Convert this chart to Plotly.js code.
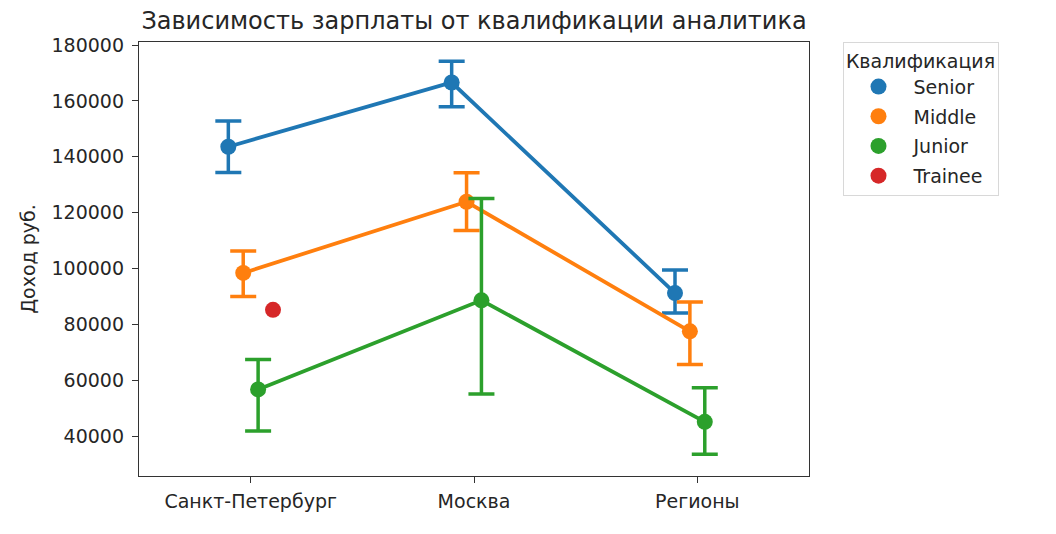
<!DOCTYPE html>
<html>
<head>
<meta charset="utf-8">
<script src="https://cdn.plot.ly/plotly-3.0.1.min.js"></script>
<style>
  html, body { margin: 0; padding: 0; background: #fff; }
  #plot { width: 1056px; height: 534px; }
</style>
</head>
<body>
<div id="plot"></div>
<script>
// города (ось x)
const cities = ['Санкт-Петербург', 'Москва', 'Регионы']
const levels = ['Senior', 'Middle', 'Junior', 'Trainee']
const colors = ['#1f77b4', '#ff7f0e', '#2ca02c', '#d62728']

// средний доход по квалификации, null = нет данных
const senior = [143600, 166600, 91200]
const middle = [98400, 123900, 77500]
const junior = [56700, 88600, 45100]
const trainee = [85200, null, null]

// верх и низ доверительного интервала
const seniorHi = [152800, 174200, 99500]
const seniorLo = [134400, 157900, 84100]
const middleHi = [106300, 134300, 88000]
const middleLo = [90000, 113600, 65600]
const juniorHi = [67400, 125100, 57300]
const juniorLo = [41800, 55100, 33500]
const traineeHi = [null, null, null]
const traineeLo = [null, null, null]

const yTicks = [40000, 60000, 80000, 100000, 120000, 140000, 160000, 180000]

const means = [senior, middle, junior, trainee]
const his = [seniorHi, middleHi, juniorHi, traineeHi]
const los = [seniorLo, middleLo, juniorLo, traineeLo]

function draw() {
  try {
    var data = []
    // сдвиг точек как в seaborn pointplot (dodge)
    const dodge = 0.2
    const n = levels.length
    levels.forEach(function (lvl, k) {
      const off = -dodge / 2 + k * dodge / (n - 1)
      const xs = [], ys = [], up = [], down = []
      cities.forEach(function (c, i) {
        if (means[k][i] === null) return
        xs.push(i + off)
        ys.push(means[k][i])
        up.push(his[k][i] === null ? 0 : his[k][i] - means[k][i])
        down.push(los[k][i] === null ? 0 : means[k][i] - los[k][i])
      })
      const hasErr = his[k].some(function (v) { return v !== null })
      // линия без легенды
      if (xs.length > 1) {
        data.push({
          x: xs, y: ys, type: 'scatter', mode: 'lines',
          line: { color: colors[k], width: 3.8 },
          showlegend: false, hoverinfo: 'skip', legendgroup: lvl
        })
      }
      // точки с усами
      data.push({
        x: xs, y: ys, type: 'scatter', mode: 'markers', name: lvl,
        legendgroup: lvl,
        marker: { color: colors[k], size: 16 },
        error_y: {
          type: 'data', symmetric: false, array: up, arrayminus: down,
          visible: hasErr, color: colors[k], thickness: 3.5, width: 13
        }
      })
    })

    const layout = {
      width: 1056, height: 534,
      margin: { l: 139, r: 247, t: 42, b: 58 },
      paper_bgcolor: '#fff', plot_bgcolor: '#fff',
      font: { family: 'DejaVu Sans', size: 19, color: '#262626' },
      title: {
        text: 'Зависимость зарплаты от квалификации аналитика',
        font: { size: 24, color: '#262626' },
        x: 0.5, xref: 'paper', y: 1 - 21 / 534, yref: 'container', yanchor: 'middle'
      },
      xaxis: {
        range: [-0.5, 2.5], tickvals: [0, 1, 2], ticktext: cities,
        showgrid: false, zeroline: false, showline: true, mirror: true,
        linecolor: '#333', linewidth: 1.2, ticks: 'outside', ticklen: 6,
        tickcolor: '#333', tickfont: { size: 19 }, ticklabelstandoff: 2
      },
      yaxis: {
        range: [25700, 181100], tickvals: yTicks, tickformat: 'd',
        showgrid: false, zeroline: false, showline: true, mirror: true,
        linecolor: '#333', linewidth: 1.2, ticks: 'outside', ticklen: 6,
        tickcolor: '#333', tickfont: { size: 19 }, ticklabelstandoff: 4,
        title: { text: 'Доход руб.', font: { size: 19 }, standoff: 10 }
      },
      legend: {
        x: 1.05, xref: 'paper', xanchor: 'left', y: 1.0, yanchor: 'top',
        bgcolor: '#fff', bordercolor: '#d8d8d8', borderwidth: 1,
        title: { text: 'Квалификация', font: { size: 19 }, side: 'top center' },
        font: { size: 19 }, itemwidth: 60,
        traceorder: 'grouped', tracegroupgap: 2
      },
      showlegend: true
    }

    Plotly.newPlot('plot', data, layout, { staticPlot: true })
  }
  catch (err) {
    console.error(err)
  }
}

draw()
</script>
</body>
</html>
